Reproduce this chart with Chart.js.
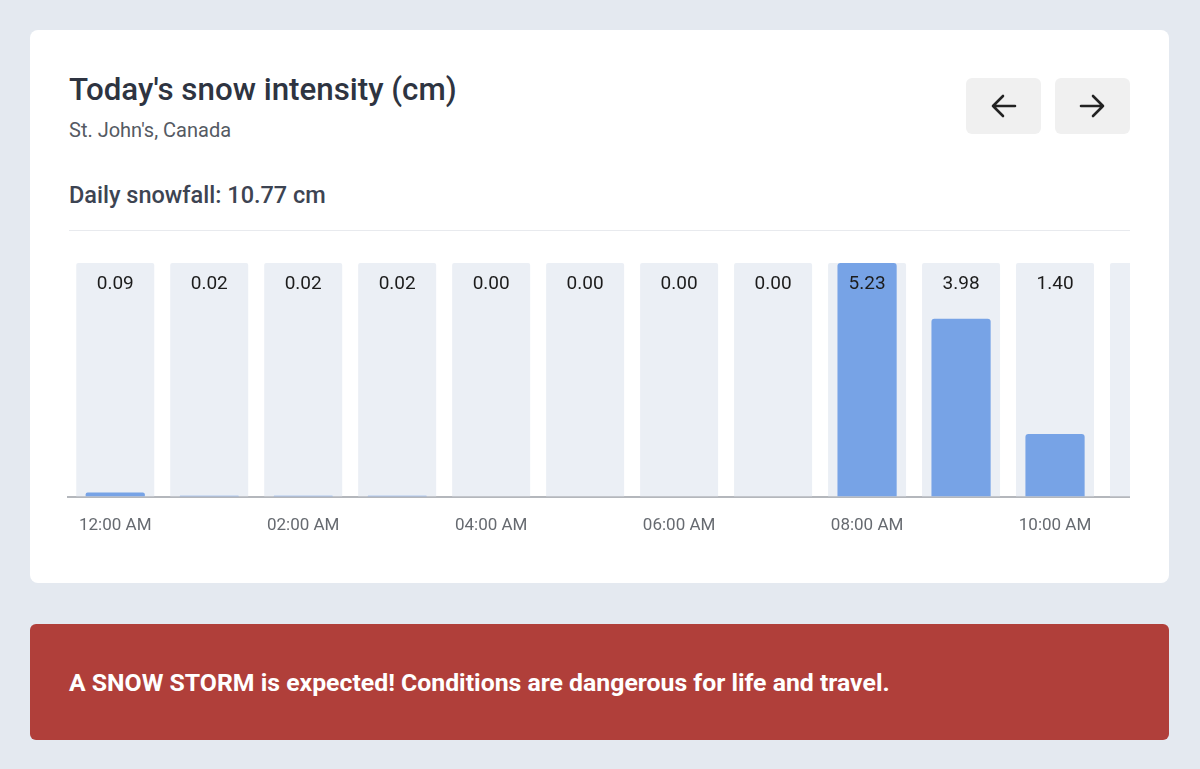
<!DOCTYPE html>
<html>
<head>
<meta charset="utf-8">
<script src="https://cdn.jsdelivr.net/npm/chart.js@4"></script>
<style>
  body { margin: 0; background: #e4e9f0; font-family: Roboto, sans-serif; width: 1200px; height: 769px; position: relative; overflow: hidden; }
  .card { position: absolute; left: 30px; top: 30px; width: 1139px; height: 553px; background: #fff; border-radius: 8px; }
  .title { position: absolute; left: 39px; top: 41px; font-size: 31.3px; font-weight: 500; color: #2e3441; }
  .sub { position: absolute; left: 39px; top: 88px; font-size: 20px; color: #555a63; }
  .total { position: absolute; left: 39px; top: 151px; font-size: 23.5px; font-weight: 500; color: #3d4452; }
  .divider { position: absolute; left: 39px; top: 200px; width: 1061px; height: 1px; background: #e8eaee; }
  .btn { position: absolute; top: 48px; width: 75px; height: 56px; background: #f0f0f0; border-radius: 6px; }
  .btn svg { position: absolute; left: 24px; top: 15px; }
  .chartWrap { position: absolute; left: 60px; top: 250px; width: 1070px; height: 305px; overflow: hidden; }
  .chartInner { position: relative; width: 1136px; height: 305px; }
  .alert { position: absolute; left: 30px; top: 624px; width: 1139px; height: 116px; background: #b03f3a; border-radius: 6px; }
  .alert span { position: absolute; left: 39px; top: 44px; font-size: 24.8px; font-weight: 700; color: #fff; }
</style>
</head>
<body>
<div class="card">
  <div class="title">Today's snow intensity (cm)</div>
  <div class="sub">St. John's, Canada</div>
  <div class="total">Daily snowfall: 10.77 cm</div>
  <div class="divider"></div>
  <div class="btn" style="left:936px">
    <svg width="27" height="26" viewBox="0 0 27 26"><path d="M25 13 H3 M13 3 L3 13 L13 23" fill="none" stroke="#222" stroke-width="2.6" stroke-linecap="round" stroke-linejoin="round"/></svg>
  </div>
  <div class="btn" style="left:1025px">
    <svg width="27" height="26" viewBox="0 0 27 26"><path d="M2 13 H24 M14 3 L24 13 L14 23" fill="none" stroke="#222" stroke-width="2.6" stroke-linecap="round" stroke-linejoin="round"/></svg>
  </div>
</div>
<div class="chartWrap"><div class="chartInner"><canvas id="snowChart"></canvas></div></div>
<div class="alert"><span>A SNOW STORM is expected! Conditions are dangerous for life and travel.</span></div>

<script>
const hours = ['12:00 AM', '01:00 AM', '02:00 AM', '03:00 AM', '04:00 AM', '05:00 AM',
    '06:00 AM', '07:00 AM', '08:00 AM', '09:00 AM', '10:00 AM', '11:00 AM'];
const snowfall = [0.09, 0.02, 0.02, 0.02, 0.00, 0.00, 0.00, 0.00, 5.23, 3.98, 1.40, null];

const yMax = Math.max(...snowfall.filter(v => v !== null));
const track = hours.map(() => yMax);

// value text at the top of each column
const valueLabels = {
    id: 'valueLabels',
    afterDatasetsDraw(chart) {
        const { ctx, chartArea } = chart;
        const meta = chart.getDatasetMeta(0);
        ctx.save();
        ctx.font = '19px Roboto';
        ctx.fillStyle = '#1c1c1c';
        ctx.textAlign = 'center';
        ctx.textBaseline = 'middle';
        meta.data.forEach((bar, i) => {
            if (snowfall[i] === null) return;
            ctx.fillText(snowfall[i].toFixed(2), bar.x, chartArea.top + 21);
        });
        ctx.restore();
    }
};

const ctx = document.getElementById('snowChart');

new Chart(ctx, {
    type: 'bar',
    data: {
        labels: hours,
        datasets: [{
            data: snowfall,
            backgroundColor: '#77a3e6',
            borderRadius: { topLeft: 3, topRight: 3 },
            borderSkipped: 'bottom',
            barPercentage: 0.63,
            categoryPercentage: 1,
            grouped: false,
            order: 0
        }, {
            data: track,
            backgroundColor: '#ebeff5',
            borderRadius: { topLeft: 2, topRight: 2 },
            borderSkipped: 'bottom',
            barPercentage: 0.83,
            categoryPercentage: 1,
            grouped: false,
            order: 1
        }]
    },
    options: {
        responsive: true,
        maintainAspectRatio: false,
        animation: false,
        layout: { padding: { top: 13, left: 0, right: 0, bottom: 0 } },
        plugins: {
            legend: { display: false },
            tooltip: { enabled: false }
        },
        scales: {
            x: {
                z: 1,
                grid: { display: false, drawTicks: false },
                border: { color: '#b4b7bc', width: 2 },
                ticks: {
                    autoSkip: false,
                    maxRotation: 0,
                    padding: 19,
                    color: '#666a70',
                    font: { family: 'Roboto', size: 17 },
                    callback: function (val, i) {
                        return i % 2 === 0 ? hours[i] : '';
                    }
                }
            },
            y: {
                display: false,
                min: 0,
                max: yMax
            }
        }
    },
    plugins: [valueLabels]
});
</script>
</body>
</html>
